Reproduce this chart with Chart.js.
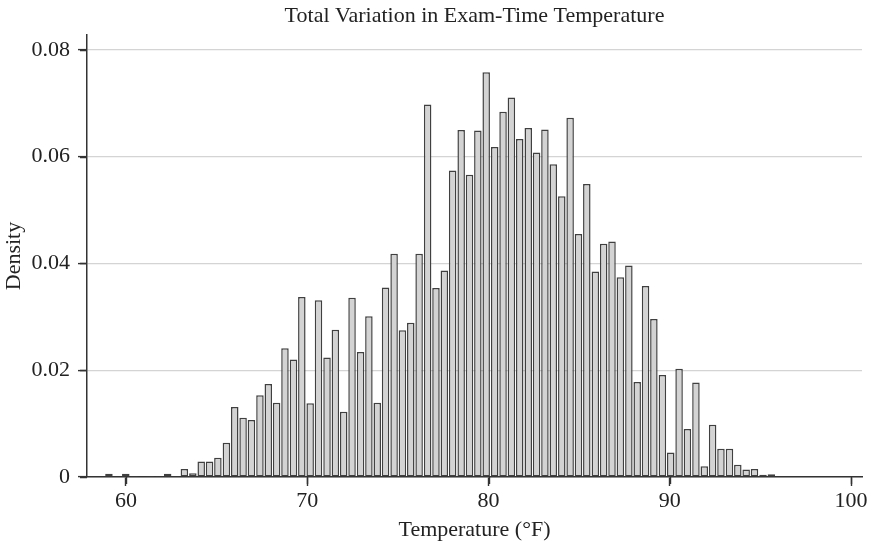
<!DOCTYPE html>
<html>
<head>
<meta charset="utf-8">
<script src="https://cdn.jsdelivr.net/npm/chart.js@4"></script>
<style>
    body { margin: 0; background: #fff; }
    #wrap { width: 870px; height: 544px; }
</style>
</head>
<body>
<div id="wrap"><canvas id="chart-temp"></canvas></div>
<script>
// bin centres (°F), 80 bins
const binCenters = [
    59.06, 59.52, 59.99, 60.45, 60.91, 61.37, 61.84, 62.30, 62.76, 63.22,
    63.69, 64.15, 64.61, 65.07, 65.54, 66.00, 66.46, 66.92, 67.39, 67.85,
    68.31, 68.77, 69.24, 69.70, 70.16, 70.62, 71.09, 71.55, 72.01, 72.47,
    72.94, 73.40, 73.86, 74.32, 74.79, 75.25, 75.71, 76.17, 76.64, 77.10,
    77.56, 78.02, 78.49, 78.95, 79.41, 79.87, 80.34, 80.80, 81.26, 81.72,
    82.19, 82.65, 83.11, 83.57, 84.04, 84.50, 84.96, 85.42, 85.89, 86.35,
    86.81, 87.27, 87.74, 88.20, 88.66, 89.12, 89.59, 90.05, 90.51, 90.97,
    91.44, 91.90, 92.36, 92.82, 93.29, 93.75, 94.21, 94.67, 95.14, 95.60
];

const density = [
    0.0006, null, 0.0006, 0.0002, 0.0001, 0.0002, 0.0002, 0.0006, 0.0002, 0.0015,
    0.0007, 0.0029, 0.0029, 0.0036, 0.0064, 0.0131, 0.0111, 0.0107, 0.0153, 0.0174,
    0.0139, 0.0241, 0.0220, 0.0337, 0.0138, 0.0331, 0.0224, 0.0276, 0.0122, 0.0336,
    0.0234, 0.0301, 0.0139, 0.0355, 0.0418, 0.0275, 0.0289, 0.0418, 0.0698, 0.0354,
    0.0387, 0.0574, 0.0650, 0.0566, 0.0649, 0.0758, 0.0618, 0.0684, 0.0711, 0.0633,
    0.0654, 0.0608, 0.0651, 0.0586, 0.0526, 0.0673, 0.0455, 0.0549, 0.0385, 0.0437,
    0.0441, 0.0374, 0.0396, 0.0178, 0.0358, 0.0296, 0.0191, 0.0046, 0.0203, 0.0090,
    0.0177, 0.0020, 0.0098, 0.0053, 0.0053, 0.0023, 0.0014, 0.0015, 0.0004, 0.0005
];

const xTicks = [60, 70, 80, 90, 100];
const yTicks = [0, 0.02, 0.04, 0.06, 0.08];

const chartTitle = 'Total Variation in Exam-Time Temperature';
const serif = 'Liberation Serif';
const textColor = '#222';
const axisColor = '#333';

const points = binCenters.map((x, i) => ({ x: x, y: density[i] }));

// title centred over the plot area, not the canvas
const plotTitle = {
    id: 'plotTitle',
    afterDraw(chart) {
        const ctx = chart.ctx;
        const area = chart.chartArea;
        ctx.save();
        ctx.fillStyle = textColor;
        ctx.font = '22px "' + serif + '"';
        ctx.textAlign = 'center';
        ctx.textBaseline = 'middle';
        ctx.fillText(chartTitle, (area.left + area.right) / 2, 16);
        ctx.restore();
    }
};

// outward tick marks, matplotlib style
const tickMarks = {
    id: 'tickMarks',
    afterDraw(chart) {
        const ctx = chart.ctx;
        const area = chart.chartArea;
        const xs = chart.scales.x;
        const ys = chart.scales.y;
        ctx.save();
        ctx.strokeStyle = axisColor;
        ctx.lineWidth = 1.4;
        ctx.beginPath();
        xTicks.forEach(v => {
            const px = Math.round(xs.getPixelForValue(v)) + 0.5;
            ctx.moveTo(px, area.bottom);
            ctx.lineTo(px, area.bottom + 7);
        });
        yTicks.forEach(v => {
            const py = Math.round(ys.getPixelForValue(v)) + 0.5;
            ctx.moveTo(area.left, py);
            ctx.lineTo(area.left - 7, py);
        });
        ctx.stroke();
        ctx.restore();
    }
};

const data = {
    datasets: [{
        label: 'Density',
        data: points,
        backgroundColor: '#d3d3d3',
        borderColor: '#404040',
        borderWidth: 1.5,
        borderSkipped: false,
        categoryPercentage: 1.0,
        barPercentage: 0.9,
    }]
};

const config = {
    type: 'bar',
    data: data,
    plugins: [plotTitle, tickMarks],
    options: {
        responsive: true,
        maintainAspectRatio: false,
        animation: false,
        layout: { padding: { left: 0, right: 8, top: 35, bottom: 0 } },
        plugins: {
            legend: { display: false },
            tooltip: { enabled: false },
            title: { display: false }
        },
        scales: {
            x: {
                type: 'linear',
                offset: false,
                min: 57.85,
                max: 100.6,
                afterBuildTicks: (scale) => { scale.ticks = xTicks.map(v => ({ value: v })); },
                afterFit: (scale) => { scale.height = 67; },
                ticks: {
                    color: textColor,
                    font: { family: serif, size: 22 },
                    padding: 2,
                    maxRotation: 0,
                    callback: (v) => String(v)
                },
                grid: { offset: false, drawOnChartArea: false, tickLength: 9, tickColor: axisColor, tickWidth: 1.4 },
                border: { color: axisColor, width: 1.5 },
                title: {
                    display: true,
                    text: 'Temperature (°F)',
                    color: textColor,
                    font: { family: serif, size: 22 },
                    padding: { top: 0, bottom: 1 }
                }
            },
            y: {
                min: 0,
                max: 0.0828,
                afterBuildTicks: (scale) => { scale.ticks = yTicks.map(v => ({ value: v })); },
                afterFit: (scale) => { scale.width = 87; },
                ticks: {
                    color: textColor,
                    font: { family: serif, size: 22 },
                    padding: 8,
                    callback: (v) => v === 0 ? '0' : v.toFixed(2)
                },
                grid: { color: '#d4d4d4', lineWidth: 1.2, tickLength: 9, tickColor: axisColor, tickWidth: 1.4 },
                border: { color: axisColor, width: 1.5 },
                title: {
                    display: true,
                    text: 'Density',
                    color: textColor,
                    font: { family: serif, size: 22 },
                    padding: { top: 1, bottom: 0 }
                }
            }
        }
    }
};

const tempChart = new Chart(document.getElementById('chart-temp'), config);
</script>
</body>
</html>
